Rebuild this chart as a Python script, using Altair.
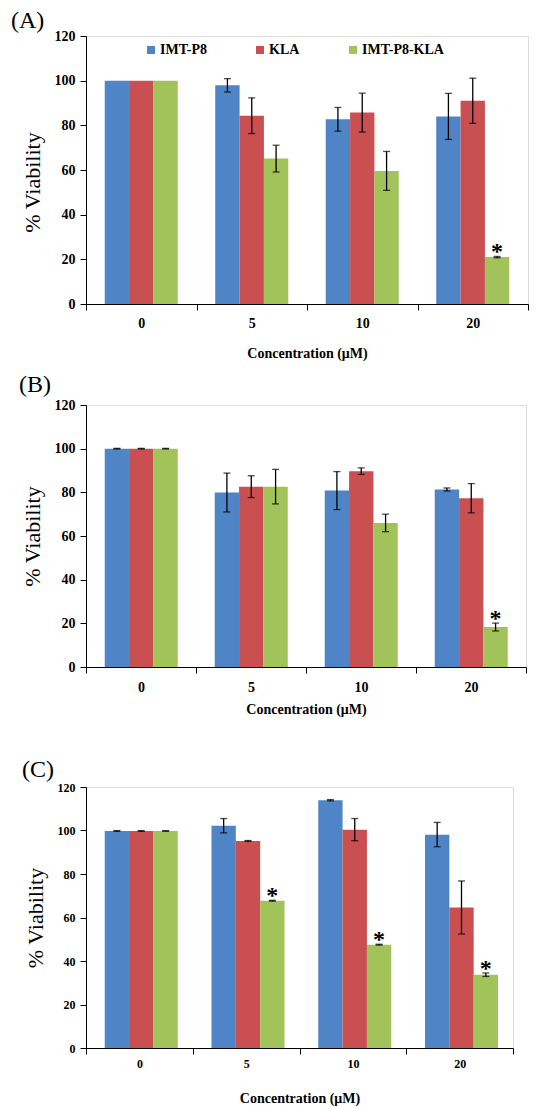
import altair as alt
import pandas as pd

conc = ["0", "5", "10", "20"]
series = ["IMT-P8", "KLA", "IMT-P8-KLA"]
colors = ["#4F85C6", "#C94F50", "#A2C25A"]

# Panel A
A_imt = [100, 97.9, 82.7, 84.0]
A_imt_err = [0, 3.0, 5.3, 10.3]
A_kla = [100, 84.3, 85.7, 91.0]
A_kla_err = [0, 8.0, 8.7, 10.1]
A_combo = [100, 65.1, 59.6, 21.0]
A_combo_err = [0, 6.0, 8.7, 0.3]
A_star = ["20"]

# Panel B
B_imt = [100, 79.9, 80.8, 81.3]
B_imt_err = [0.15, 8.9, 8.7, 0.7]
B_kla = [100, 82.6, 89.7, 77.3]
B_kla_err = [0.15, 5.0, 1.5, 6.7]
B_combo = [100, 82.6, 66.0, 18.3]
B_combo_err = [0.15, 7.9, 4.0, 1.8]
B_star = ["20"]

# Panel C
C_imt = [99.8, 102.2, 113.9, 98.1]
C_imt_err = [0.15, 3.3, 0.3, 5.6]
C_kla = [99.8, 95.2, 100.4, 64.6]
C_kla_err = [0.15, 0.2, 5.1, 12.2]
C_combo = [99.8, 67.7, 47.5, 33.7]
C_combo_err = [0.15, 0.2, 0.2, 0.8]
C_star = ["5", "10", "20"]

y_ticks = [0, 20, 40, 60, 80, 100, 120]
FONT = "Liberation Serif"


def make_df(imt, imt_e, kla, kla_e, combo, combo_e, stars):
    rows = []
    for vals, errs, s in ((imt, imt_e, series[0]), (kla, kla_e, series[1]), (combo, combo_e, series[2])):
        for c, v, e in zip(conc, vals, errs):
            rows.append({"conc": c, "series": s, "value": v, "err": e,
                         "low": v - e, "high": v + e,
                         "star": "*" if (s == series[2] and c in stars) else ""})
    return pd.DataFrame(rows)


def panel(label, df, w, h, tick_fs, lab_pad_x, title_pad_x, leg_x, leg_y, col_pad,
          title_dx, title_offset, ytitle_y=None):
    xscale = alt.Scale(domain=conc, paddingInner=0, paddingOuter=0)
    xenc = alt.X("conc:N", sort=conc, scale=xscale,
                 axis=alt.Axis(title="Concentration (μM)", labelAngle=0, tickBand="extent",
                               domainColor="black", tickColor="black", tickSize=6,
                               labelFont=FONT, labelFontWeight="bold", labelFontSize=tick_fs,
                               labelColor="black", labelPadding=lab_pad_x,
                               titleFont=FONT, titleFontWeight="bold", titleFontSize=14,
                               titleColor="black", titlePadding=title_pad_x))
    xplain = alt.X("conc:N", sort=conc, scale=xscale)
    xoff = alt.XOffset("series:N", sort=series,
                       scale=alt.Scale(domain=series, paddingOuter=0.77, paddingInner=0))
    yaxis_kw = dict(title="% Viability", values=y_ticks, grid=False,
                    domainColor="black", tickColor="black", tickSize=6,
                    labelFont=FONT, labelFontWeight="bold", labelFontSize=tick_fs,
                    labelColor="black", labelPadding=5,
                    titleFont=FONT, titleFontWeight="normal", titleFontSize=22,
                    titleColor="black", titlePadding=10)
    if ytitle_y is not None:
        yaxis_kw["titleY"] = ytitle_y
    yenc = alt.Y("value:Q", scale=alt.Scale(domain=[0, 120]), axis=alt.Axis(**yaxis_kw))
    base = alt.Chart(df)
    bars = base.mark_bar().encode(
        x=xenc, xOffset=xoff, y=yenc,
        color=alt.Color("series:N", sort=series,
                        scale=alt.Scale(domain=series, range=colors),
                        legend=alt.Legend(orient="none", legendX=leg_x, legendY=leg_y,
                                          direction="horizontal", title=None,
                                          symbolType="square", symbolSize=64,
                                          symbolStrokeWidth=0, labelOffset=2,
                                          labelFont=FONT, labelFontWeight="bold",
                                          labelFontSize=14, labelColor="black",
                                          columnPadding=col_pad)))
    eb = base.transform_filter("datum.err > 0")
    rules = eb.mark_rule(color="black", strokeWidth=1.3).encode(
        x=xplain, xOffset=xoff, y="low:Q", y2="high:Q")
    cap_lo = eb.mark_tick(color="black", size=7, thickness=1.3, orient="horizontal").encode(
        x=xplain, xOffset=xoff, y="low:Q")
    cap_hi = eb.mark_tick(color="black", size=7, thickness=1.3, orient="horizontal").encode(
        x=xplain, xOffset=xoff, y="high:Q")
    stars = base.transform_filter("datum.star != ''").mark_text(
        font=FONT, fontSize=24, fontWeight="bold", color="black", baseline="alphabetic", dy=3
    ).encode(x=xplain, xOffset=xoff, y="high:Q", text="star:N")
    return alt.layer(bars, rules, cap_lo, cap_hi, stars).properties(
        width=w, height=h,
        title=alt.TitleParams(label, anchor="start", font=FONT, fontSize=24,
                              fontWeight="normal", color="black", dx=title_dx,
                              offset=title_offset))


dfA = make_df(A_imt, A_imt_err, A_kla, A_kla_err, A_combo, A_combo_err, A_star)
dfB = make_df(B_imt, B_imt_err, B_kla, B_kla_err, B_combo, B_combo_err, B_star)
dfC = make_df(C_imt, C_imt_err, C_kla, C_kla_err, C_combo, C_combo_err, C_star)

pA = panel("(A)", dfA, 442, 268, 14, 6, 16, 58, 7, 46, -10, -4, ytitle_y=146)
pB = panel("(B)", dfB, 440, 262, 14, 7, 8, 73, 18, 34, -2, 1)
pC = panel("(C)", dfC, 427, 261, 12, 4, 22, 68, -1, 37, -2, -1)

top = alt.vconcat(pA, pB, spacing=11)
chart = alt.vconcat(top, pC, spacing=40).properties(
    padding={"left": 2, "top": 0, "right": 5, "bottom": 0}
).configure_view(stroke=None).configure(background="white")

chart.save("out.html", embed_options={"renderer": "svg", "actions": False})
